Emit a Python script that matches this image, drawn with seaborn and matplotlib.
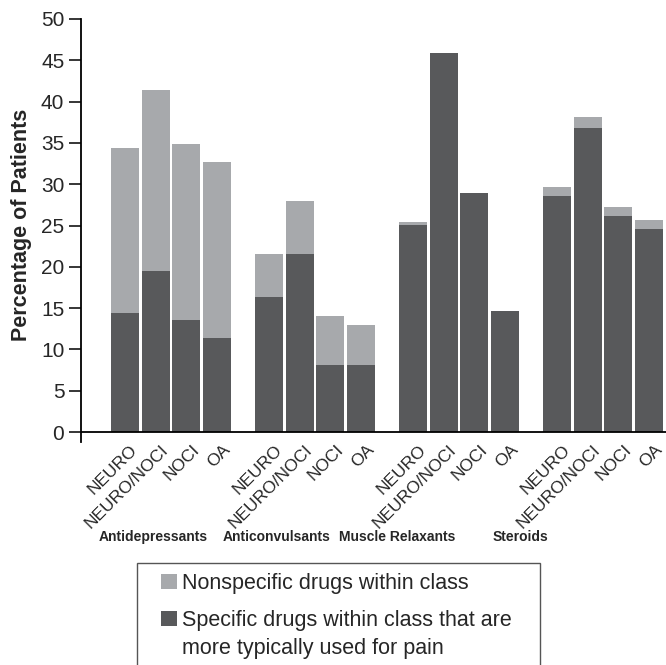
import pandas as pd
import numpy as np
import matplotlib
matplotlib.use("Agg")
import matplotlib.pyplot as plt
import matplotlib.transforms as mtransforms
import seaborn as sns
from matplotlib.patches import Rectangle

# Datos
drug_classes = ['Antidepressants', 'Anticonvulsants', 'Muscle Relaxants', 'Steroids']
pain_groups = ['NEURO', 'NEURO/NOCI', 'NOCI', 'OA']

# porcentaje total (barra completa) por clase y grupo
total_pct = [34.4, 41.4, 34.9, 32.7,
             21.6, 28.0, 14.0, 13.0,
             25.4, 45.9, 28.9, 14.6,
             29.7, 38.1, 27.2, 25.7]
# porcentaje de farmacos especificos (parte oscura)
specific_pct = [14.4, 19.5, 13.6, 11.4,
                16.4, 21.6, 8.1, 8.1,
                25.1, 45.9, 28.9, 14.6,
                28.6, 36.8, 26.1, 24.6]

yticks = list(range(0, 55, 5))
legend_labels = ['Nonspecific drugs within class',
                 'Specific drugs within class that are\nmore typically used for pain']

light = '#a7a9ac'
dark = '#58595b'

sns.set_style("white")
plt.rcParams['font.family'] = ['Liberation Sans', 'DejaVu Sans']

W, H = 666, 665  # tamano en pixeles

# tabla larga con posicion numerica de cada barra
group_step = 4.69
rows = []
for g, cls in enumerate(drug_classes):
    for i, grp in enumerate(pain_groups):
        k = g * len(pain_groups) + i
        rows.append({'clase': cls, 'grupo': grp, 'pos': g * group_step + i,
                     'total': total_pct[k], 'especifico': specific_pct[k]})
df = pd.DataFrame(rows)

fig = plt.figure(figsize=(W / 100, H / 100), dpi=100)
ax = fig.add_axes([81 / W, 1 - 442 / H, 1 - 81 / W, (442 - 19) / H])

# barras apiladas: primero el total en gris claro, encima la parte especifica
sns.barplot(data=df, x='pos', y='total', native_scale=True, color=light,
            saturation=1, width=0.91, errorbar=None, linewidth=0, ax=ax)
sns.barplot(data=df, x='pos', y='especifico', native_scale=True, color=dark,
            saturation=1, width=0.91, errorbar=None, linewidth=0, ax=ax)

ax.set_xlim(df['pos'].min() - 1.43, df['pos'].max() + 0.55)
ax.set_ylim(-1.2, 50)
ax.axhline(0, color='black', lw=1.3, zorder=5)

for s in ['top', 'right', 'bottom']:
    ax.spines[s].set_visible(False)
ax.spines['left'].set_color('black')
ax.spines['left'].set_linewidth(1.3)

ax.set_yticks(yticks)
ax.set_yticklabels([str(t) for t in yticks], fontsize=15)
ax.tick_params(axis='y', direction='out', length=8.5, width=1.1, color='black', pad=3.5, left=True)

ax.set_xticks(df['pos'])
ax.set_xticklabels(df['grupo'], rotation=45, ha='right', rotation_mode='anchor', fontsize=12.5)
ax.tick_params(axis='x', length=0, pad=0)
shift = mtransforms.ScaledTranslation(5 / 100, 0, fig.dpi_scale_trans)
for lab in ax.get_xticklabels():
    lab.set_transform(lab.get_transform() + shift)

ax.set_xlabel('')
ax.set_ylabel('Percentage of Patients', fontsize=15.5, fontweight='bold')
ax.yaxis.set_label_coords(-0.084, 0.514)

# etiquetas de cada clase debajo de los grupos
class_x = [0.23, 0.416, 0.596, 0.782]
for cls, xf in zip(drug_classes, class_x):
    fig.text(xf, 1 - 537 / H, cls, ha='center', va='center', fontsize=10, fontweight='bold')

# leyenda dibujada a mano (la caja queda cortada por abajo como en el original)
fig.patches.append(Rectangle((137 / W, -0.05), (540 - 137) / W, 0.05 + 1 - 563 / H,
                             transform=fig.transFigure, fill=False,
                             edgecolor='#555555', linewidth=1.0))
baselines = [589, 626]
line_step = 28
for lab, col, yb in zip(legend_labels, [light, dark], baselines):
    fig.patches.append(Rectangle((161 / W, 1 - yb / H), 16 / W, 15 / H,
                                 transform=fig.transFigure, facecolor=col, edgecolor='none'))
    for j, linea in enumerate(lab.split('\n')):
        fig.text(182 / W, 1 - (yb + j * line_step) / H, linea,
                 ha='left', va='baseline', fontsize=15.5)

plt.savefig('out.png', dpi=100)
